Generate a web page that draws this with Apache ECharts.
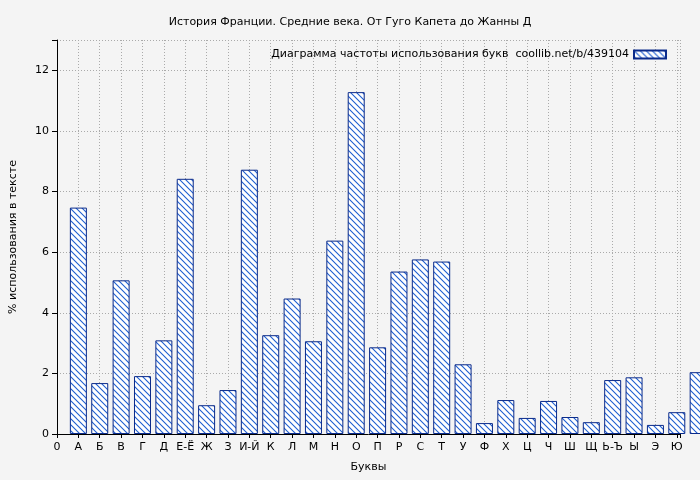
<!DOCTYPE html>
<html><head><meta charset="utf-8">
<script src="https://cdn.jsdelivr.net/npm/echarts@6/dist/echarts.min.js"></script>
<style>html,body{margin:0;background:#f4f4f4}#c{width:700px;height:480px}</style>
</head><body><div id="c"></div>
<script>
const categories = ['0','А','Б','В','Г','Д','Е-Ё','Ж','З','И-Й','К','Л','М','Н','О','П','Р','С','Т','У','Ф','Х','Ц','Ч','Ш','Щ','Ь-Ъ','Ы','Э','Ю','Я'];
const values = [null,7.47,1.68,5.07,1.91,3.09,8.42,0.95,1.45,8.72,3.26,4.47,3.06,6.38,11.28,2.86,5.36,5.76,5.69,2.30,0.36,1.12,0.53,1.09,0.56,0.39,1.78,1.87,0.30,0.72,2.04];
const seriesName = 'Диаграмма частоты использования букв  coollib.net/b/439104';

const pc = document.createElement('canvas'); pc.width = 6; pc.height = 6;
const g = pc.getContext('2d');
g.fillStyle = '#fff'; g.fillRect(0,0,6,6);
g.strokeStyle = '#1f5fd0'; g.lineWidth = 1.1;
g.beginPath();
g.moveTo(0,0); g.lineTo(6,6);
g.moveTo(-3,3); g.lineTo(3,9);
g.moveTo(3,-3); g.lineTo(9,3);
g.stroke();
const pattern = {image: pc, repeat: 'repeat'};

const data = values.map((v,i) => v == null ? null : [i, v]).filter(d => d);

const chart = echarts.init(document.getElementById('c'));
chart.setOption({
  backgroundColor: '#f4f4f4',
  textStyle: {fontFamily: 'DejaVu Sans'},
  title: {text: 'История Франции. Средние века. От Гуго Капета до Жанны Д', left: 'center', top: 12,
    textStyle: {fontSize: 11, fontWeight: 'normal', color: '#000', fontFamily: 'DejaVu Sans'}},
  legend: {right: 28, top: 44, itemWidth: 32, itemHeight: 8, itemGap: 10, align: 'right', icon: 'rect',
    textStyle: {fontSize: 11, color: '#000'}, data: [seriesName]},
  grid: {left: 55, right: 20, top: 40, bottom: 46},
  xAxis: {type: 'value', min: 0, max: 29.15, interval: 1, name: 'Буквы', nameLocation: 'middle', nameGap: 28,
    nameTextStyle: {fontSize: 11, color: '#000'},
    axisLine: {lineStyle: {color: '#000'}}, axisTick: {show: true, lineStyle: {color: '#000'}, length: 4},
    axisLabel: {color: '#000', fontSize: 11, showMaxLabel: true,
      formatter: v => Number.isInteger(v) ? (categories[v] || '') : ''},
    splitLine: {show: true, lineStyle: {color: '#aaa', type: [1,2]}}},
  yAxis: {type: 'value', min: 0, max: 13, interval: 2, name: '% использования в тексте', nameLocation: 'middle', nameGap: 38,
    nameTextStyle: {fontSize: 11, color: '#000'},
    axisLine: {show: true, lineStyle: {color: '#000'}}, axisTick: {show: true, lineStyle: {color: '#000'}},
    axisLabel: {color: '#000', fontSize: 11, formatter: v => v % 2 === 0 ? String(v) : ''},
    splitLine: {show: true, lineStyle: {color: '#aaa', type: [1,2]}}},
  series: [{name: seriesName, type: 'bar', data: data, barWidth: 17, clip: true,
    itemStyle: {color: pattern, borderColor: '#0a2a8a', borderWidth: 1}}]
});
</script></body></html>
